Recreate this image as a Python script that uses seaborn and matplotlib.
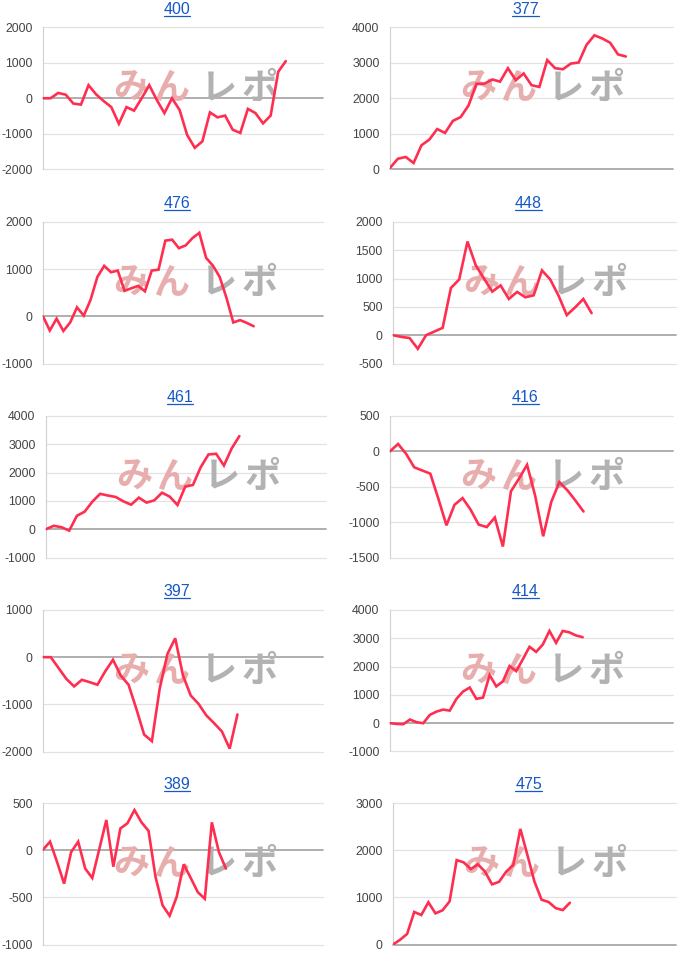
import matplotlib
matplotlib.use("Agg")
import matplotlib.pyplot as plt
import matplotlib.transforms as mtransforms
from matplotlib.lines import Line2D
import numpy as np
import pandas as pd
import seaborn as sns

# ---------------- data ----------------
titles = ["400", "377", "476", "448", "461", "416", "397", "414", "389", "475"]

s400 = [0, 0, 150, 100, -150, -180, 370, 110, -80, -250, -720, -250, -350, 0, 370, -50,
        -420, 0, -330, -1040, -1400, -1220, -400, -540, -490, -890, -980, -300, -420,
        -710, -490, 750, 1050]
s377 = [30, 290, 340, 170, 670, 830, 1130, 1020, 1360, 1470, 1800, 2410, 2410, 2530,
        2470, 2850, 2510, 2700, 2370, 2320, 3080, 2850, 2820, 2980, 3010, 3510, 3780,
        3690, 3570, 3240, 3180]
s476 = [0, -300, -50, -310, -130, 190, 15, 350, 835, 1070, 935, 970, 540, 595, 645,
        530, 970, 990, 1605, 1625, 1445, 1505, 1660, 1770, 1240, 1075, 835, 390, -130,
        -80, -140, -210]
s448 = [0, -30, -50, -240, 0, 65, 130, 835, 985, 1655, 1235, 1000, 770, 880, 640, 765,
        670, 705, 1145, 985, 700, 355, 490, 640, 390]
s461 = [0, 120, 70, -50, 475, 620, 975, 1250, 1190, 1140, 985, 865, 1115, 940, 1020,
        1290, 1150, 855, 1505, 1565, 2190, 2640, 2665, 2250, 2850, 3290]
s416 = [0, 105, -35, -225, -270, -315, -670, -1045, -755, -660, -825, -1035, -1070,
        -935, -1345, -565, -385, -190, -625, -1200, -715, -435, -550, -695, -850]
s397 = [0, 0, -230, -460, -620, -480, -530, -585, -300, -55, -390, -585, -1095, -1640,
        -1780, -670, 70, 400, -390, -815, -990, -1235, -1400, -1575, -1940, -1215]
s414 = [0, -25, -35, 130, 35, 0, 295, 410, 480, 445, 860, 1120, 1260, 860, 905, 1700,
        1300, 1480, 2020, 1840, 2260, 2700, 2520, 2780, 3260, 2840, 3260, 3210, 3100,
        3040]
s389 = [5, 90, -125, -355, -20, 90, -195, -295, 10, 320, -175, 230, 285, 425, 295, 205,
        -285, -585, -695, -495, -150, -295, -445, -515, 295, -20, -195]
s475 = [0, 100, 225, 690, 625, 895, 660, 725, 915, 1790, 1740, 1600, 1700, 1545, 1275,
        1330, 1545, 1685, 2450, 1895, 1330, 950, 900, 770, 730, 885]

series = [s400, s377, s476, s448, s461, s416, s397, s414, s389, s475]

yticks = [
    [-2000, -1000, 0, 1000, 2000],
    [0, 1000, 2000, 3000, 4000],
    [-1000, 0, 1000, 2000],
    [-500, 0, 500, 1000, 1500, 2000],
    [-1000, 0, 1000, 2000, 3000, 4000],
    [-1500, -1000, -500, 0, 500],
    [-2000, -1000, 0, 1000],
    [-1000, 0, 1000, 2000, 3000, 4000],
    [-1000, -500, 0, 500],
    [0, 1000, 2000, 3000],
]

# x-axis extent (in point steps) for each panel
xspan = [36.9, 36.0, 41.2, 34.2, 36.2, 35.1, 36.0, 42.6, 39.8, 40.0]

# watermark characters
wm_chars = ["み", "ん", "レ", "ポ"]

# ---------------- style ----------------
sns.set_style("white")
plt.rcParams["font.family"] = ["Liberation Sans", "DejaVu Sans"]

W, H = 700, 968
fig = plt.figure(figsize=(W / 100, H / 100), dpi=100)

row_tops = [27.5, 222, 416, 610, 803]
ax_h = 141.5
col_left = [43, 390]
col_w = [280, 283]
shift = [0, 0, 0, 3, 3, 0, 0, 0, 0, 3]

LINE = "#ff2e50"
GRID = "#e2e2e2"
ZERO = "#a8a8a8"
TITLE = "#1558c6"
WM_COL = ["#e8aeae", "#e8aeae", "#b2b2b2", "#b2b2b2"]
WM_X = [88, 128, 176, 217]   # px from axes left

title_texts = []
for i, (name, vals) in enumerate(zip(titles, series)):
    r, c = divmod(i, 2)
    left = col_left[c] + shift[i]
    top = row_tops[r]
    w = col_w[c]
    ax = fig.add_axes([left / W, 1 - (top + ax_h) / H, w / W, ax_h / H])
    df = pd.DataFrame({"x": np.arange(len(vals)), "y": vals})

    ticks = yticks[i]
    for t in ticks:
        ax.axhline(t, color=ZERO if t == 0 else GRID,
                   lw=1.3 if t == 0 else 0.9, zorder=1, clip_on=False)

    # watermark
    for ch, col, px in zip(wm_chars, WM_COL, WM_X):
        ax.text(px / w, 1 - 61 / ax_h, ch, transform=ax.transAxes, ha="center",
                va="center", fontsize=26, fontweight="bold", color=col,
                family=["Noto Sans CJK JP", "DejaVu Sans"], zorder=2)

    sns.lineplot(data=df, x="x", y="y", ax=ax, color=LINE, linewidth=1.9,
                 zorder=4, solid_joinstyle="miter")

    ax.set_xlim(0, xspan[i])
    ax.set_ylim(ticks[0], ticks[-1])
    ax.set_yticks(ticks)
    ax.set_yticklabels([str(t) for t in ticks])
    ax.set_xticks([])
    ax.set_xlabel("")
    ax.set_ylabel("")
    ax.tick_params(axis="y", length=0, pad=7.5, labelsize=8.8, labelcolor="#444444")
    for s in ["top", "right", "bottom"]:
        ax.spines[s].set_visible(False)
    ax.spines["left"].set_color("#d0d0d0")
    ax.spines["left"].set_linewidth(0.8)
    ax.set_facecolor("none")

    tx = (left + w / 2 - 6) / W
    ty = 1 - (top - 18.5) / H
    t = fig.text(tx, ty, name, ha="center", va="center", fontsize=11.5, color=TITLE)
    title_texts.append(t)

fig.canvas.draw()
renderer = fig.canvas.get_renderer()
for t in title_texts:
    bb = t.get_window_extent(renderer)
    y = bb.y0 + 1.0
    fig.add_artist(Line2D([bb.x0, bb.x1], [y, y], transform=mtransforms.IdentityTransform(),
                          color=TITLE, lw=0.9))

fig.savefig("out.png", dpi=100)
